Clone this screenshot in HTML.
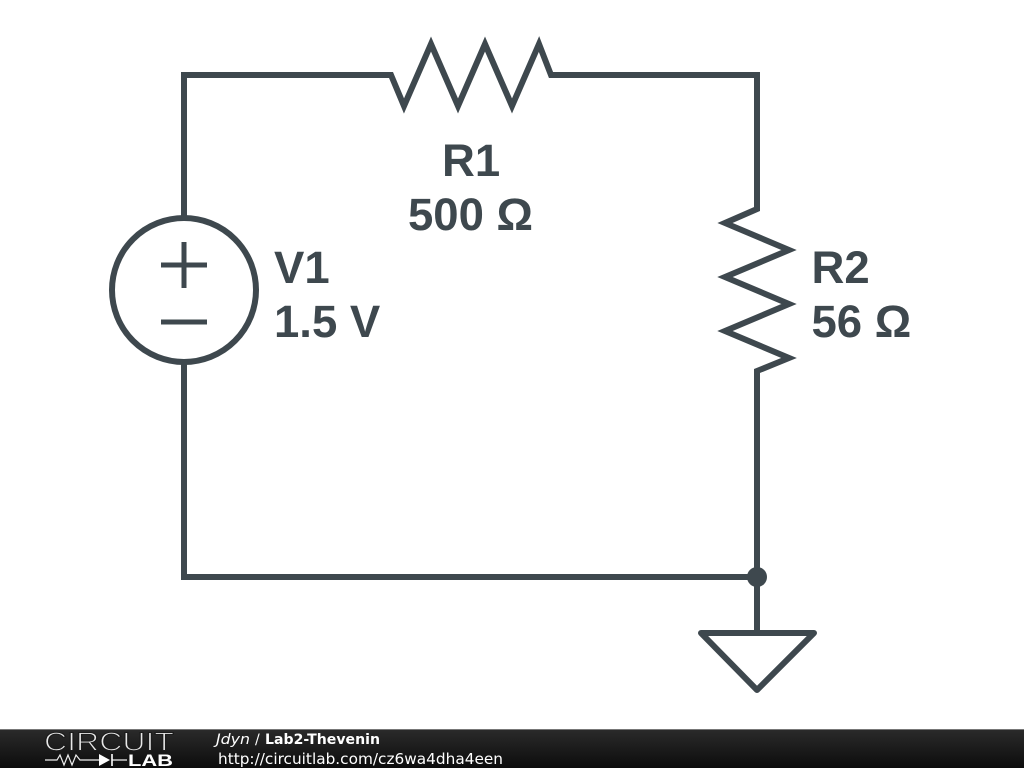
<!DOCTYPE html>
<html>
<head>
<meta charset="utf-8">
<style>
html,body{margin:0;padding:0;background:#fff;width:1024px;height:768px;overflow:hidden}
svg{display:block}
.l{font-family:"Liberation Sans",sans-serif;font-weight:bold;font-size:45.5px;fill:#3e484e}
.b{font-family:"DejaVu Sans",sans-serif;font-size:14px;fill:#fff}
</style>
</head>
<body>
<svg width="1024" height="768" viewBox="0 0 1024 768" xmlns="http://www.w3.org/2000/svg">
<defs>
<linearGradient id="g" x1="0" y1="0" x2="0" y2="1">
<stop offset="0" stop-color="#2b2b2b"/>
<stop offset="1" stop-color="#0c0c0c"/>
</linearGradient>
</defs>
<rect width="1024" height="768" fill="#fff"/>
<g fill="none" stroke="#3e484e" stroke-width="6" stroke-linejoin="miter" stroke-miterlimit="10" stroke-linecap="round">
<path d="M184 216V75H391L404 106L431 44L458 106L485 44L512 106L539 44L551 75H757V209L725 223L789 250L725 277L789 304L725 331L789 358L757 371V633"/>
<path d="M184 364V577H757"/>
<circle cx="184" cy="290" r="72"/>
<path d="M701 633H814L757 690Z" stroke-linejoin="round"/>
<path d="M161 265H207M184 242V288M161 322H207" stroke-width="5" stroke-linecap="butt"/>
</g>
<circle cx="757" cy="577" r="10" fill="#3e484e"/>
<text class="l" x="442" y="176">R1</text>
<text class="l" x="408" y="230">500 Ω</text>
<text class="l" x="274" y="283">V1</text>
<text class="l" x="274" y="337">1.5 V</text>
<text class="l" x="811.5" y="283">R2</text>
<text class="l" x="811.5" y="337">56 Ω</text>
<rect y="729" width="1024" height="39" fill="url(#g)"/>
<rect y="729" width="1024" height="1" fill="#777"/>
<text x="44" y="750.5" font-family="'Liberation Sans',sans-serif" font-size="25.5" fill="#e8e8e8" stroke="#1c1c1c" stroke-width="1.1" textLength="130" lengthAdjust="spacingAndGlyphs">CIRCUIT</text>
<path d="M45 760H57L60 755L64 765L68 755L72 765L76 755L80 760H99M112 760H127" fill="none" stroke="#eee" stroke-width="1.2"/>
<path d="M99 754L110 760L99 766Z" fill="#fff"/>
<path d="M112 754V766" stroke="#fff" stroke-width="1.6"/>
<text x="128" y="766" font-family="'Liberation Sans',sans-serif" font-weight="bold" font-size="17" fill="#fff" textLength="45" lengthAdjust="spacingAndGlyphs">LAB</text>
<text class="b" x="216" y="744" font-style="italic" textLength="34" lengthAdjust="spacingAndGlyphs">Jdyn</text>
<text class="b" x="255" y="744">/</text>
<text class="b" x="265" y="744" font-weight="bold" textLength="115" lengthAdjust="spacingAndGlyphs">Lab2-Thevenin</text>
<text class="b" x="218" y="764" style="font-size:15px" textLength="285" lengthAdjust="spacingAndGlyphs">http://circuitlab.com/cz6wa4dha4een</text>
</svg>
</body>
</html>
